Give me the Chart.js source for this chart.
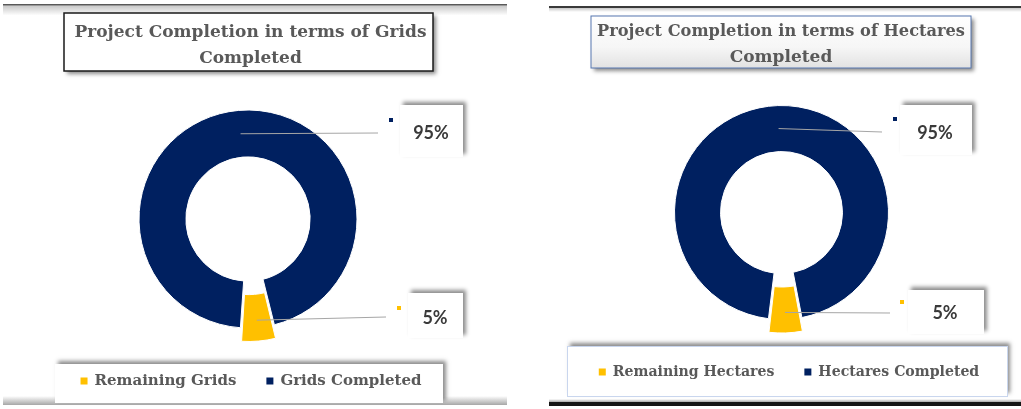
<!DOCTYPE html>
<html>
<head>
<meta charset="utf-8">
<script src="https://cdn.jsdelivr.net/npm/chart.js@4.4.0/dist/chart.umd.min.js"></script>
<style>
  html, body { margin: 0; padding: 0; background: #fff; }
  body { width: 1021px; height: 409px; position: relative; overflow: hidden; }
  canvas { position: absolute; top: 0; }
  #gridsChart { left: 0; }
  #hectaresChart { left: 510px; }
</style>
</head>
<body>
<canvas id="gridsChart" width="510" height="409"></canvas>
<canvas id="hectaresChart" width="511" height="409"></canvas>
<script>
const gridLabels = ['Remaining Grids', 'Grids Completed'];
const gridValues = [5, 95];
const gridTitle = ['Project Completion in terms of Grids', 'Completed'];

const hectareLabels = ['Remaining Hectares', 'Hectares Completed'];
const hectareValues = [5, 95];
const hectareTitle = ['Project Completion in terms of Hectares', 'Completed'];

const sliceColors = ['#FFC000', '#002060'];

const titleFont = 'bold 17px "DejaVu Serif"';
const legendFont = 'bold 15px "DejaVu Serif"';
const labelFont = 'bold 18px Lato';

function shadowOn(ctx, dx, dy) {
    ctx.shadowColor = 'rgba(0,0,0,0.45)';
    ctx.shadowBlur = 4;
    ctx.shadowOffsetX = dx;
    ctx.shadowOffsetY = dy;
}

function shadowOff(ctx) {
    ctx.shadowColor = 'transparent';
    ctx.shadowBlur = 0;
    ctx.shadowOffsetX = 0;
    ctx.shadowOffsetY = 0;
}

function drawFrame(ctx, f) {
    // top rule with a soft shade under it
    ctx.fillStyle = f.topColor;
    ctx.fillRect(f.x0, f.topY, f.x1 - f.x0, f.topH);
    let g = ctx.createLinearGradient(0, f.topY + f.topH, 0, f.topY + f.topH + f.topShade);
    g.addColorStop(0, 'rgba(0,0,0,0.22)');
    g.addColorStop(1, 'rgba(0,0,0,0)');
    ctx.fillStyle = g;
    ctx.fillRect(f.x0, f.topY + f.topH, f.x1 - f.x0, f.topShade);

    // bottom rule
    g = ctx.createLinearGradient(0, f.botY - f.botShade, 0, f.botY);
    g.addColorStop(0, 'rgba(0,0,0,0)');
    g.addColorStop(1, 'rgba(0,0,0,0.35)');
    ctx.fillStyle = g;
    ctx.fillRect(f.x0, f.botY - f.botShade, f.x1 - f.x0, f.botShade);
    if (f.botH) {
        ctx.fillStyle = f.botColor;
        ctx.fillRect(f.x0, f.botY, f.x1 - f.x0, f.botH);
    }
}

function drawTitle(ctx, t, lines) {
    const w = t.x1 - t.x0, h = t.y1 - t.y0;
    ctx.save();
    shadowOn(ctx, 3, 3);
    if (t.gradient) {
        const g = ctx.createLinearGradient(0, t.y0, 0, t.y1);
        g.addColorStop(0, '#ffffff');
        g.addColorStop(0.6, '#f6f6f6');
        g.addColorStop(1, '#e2e2e2');
        ctx.fillStyle = g;
    } else {
        ctx.fillStyle = '#ffffff';
    }
    ctx.fillRect(t.x0, t.y0, w, h);
    shadowOff(ctx);
    ctx.strokeStyle = t.stroke;
    ctx.lineWidth = t.lineWidth;
    ctx.strokeRect(t.x0, t.y0, w, h);

    ctx.fillStyle = '#595959';
    ctx.font = titleFont;
    ctx.textAlign = 'center';
    ctx.textBaseline = 'alphabetic';
    const cx = (t.x0 + t.x1) / 2 + t.dx;
    lines.forEach((line, i) => {
        ctx.fillText(line, cx, t.baseline + i * 26, t.maxWidth);
    });
    ctx.restore();
}

function drawLegend(chart, ctx, l) {
    const labels = chart.data.labels;
    const colors = chart.data.datasets[0].backgroundColor;
    ctx.save();
    shadowOn(ctx, 3, -3);
    ctx.fillStyle = '#ffffff';
    ctx.fillRect(l.x0, l.y0, l.x1 - l.x0, l.y1 - l.y0);
    shadowOff(ctx);
    if (l.stroke) {
        ctx.strokeStyle = l.stroke;
        ctx.lineWidth = 1;
        ctx.strokeRect(l.x0 + 0.5, l.y0 + 0.5, l.x1 - l.x0, l.y1 - l.y0);
    }

    ctx.font = legendFont;
    ctx.textBaseline = 'middle';
    ctx.textAlign = 'left';
    const box = 7, gap = 7, itemGap = 30;
    const textW = labels.map(s => ctx.measureText(s).width * l.squeeze);
    const widths = textW.map(w => box + gap + w);
    const total = widths.reduce((a, b) => a + b, 0) + itemGap * (labels.length - 1);
    let x = (l.x0 + l.x1) / 2 + 2 - total / 2;
    labels.forEach((s, i) => {
        ctx.fillStyle = colors[i];
        ctx.fillRect(x, l.cy - 3.5, box, box);
        ctx.fillStyle = '#595959';
        ctx.fillText(s, x + box + gap, l.cy, textW[i]);
        x += widths[i] + itemGap;
    });
    ctx.restore();
}

const panelDecor = {
    id: 'panelDecor',
    beforeDraw(chart, args, opts) {
        const ctx = chart.ctx;
        ctx.save();
        ctx.fillStyle = '#ffffff';
        ctx.fillRect(0, 0, chart.width, chart.height);
        drawFrame(ctx, opts.frame);
        drawTitle(ctx, opts.titleBox, opts.titleLines);
        drawLegend(chart, ctx, opts.legendBox);
        ctx.restore();
    },
    afterDatasetsDraw(chart, args, opts) {
        const ctx = chart.ctx;
        const meta = chart.getDatasetMeta(0);
        const values = chart.data.datasets[0].data;
        const colors = chart.data.datasets[0].backgroundColor;
        const sum = values.reduce((a, b) => a + b, 0);
        ctx.save();
        meta.data.forEach((arc, i) => {
            const b = opts.labelBoxes[i];
            const p = arc.tooltipPosition();
            // leader line
            ctx.strokeStyle = '#a6a6a6';
            ctx.lineWidth = 1;
            ctx.beginPath();
            ctx.moveTo(p.x, p.y);
            ctx.lineTo(b.lineX, b.lineY);
            ctx.stroke();
            // label box
            shadowOn(ctx, 3, -3);
            ctx.fillStyle = '#ffffff';
            ctx.fillRect(b.x0, b.y0, b.x1 - b.x0, b.y1 - b.y0);
            shadowOff(ctx);
            // legend key
            ctx.fillStyle = colors[i];
            ctx.fillRect(b.keyX, b.keyY, 4, 4);
            // value
            ctx.fillStyle = '#3a3a3a';
            ctx.font = labelFont;
            ctx.textAlign = 'center';
            ctx.textBaseline = 'middle';
            ctx.fillText(Math.round(values[i] / sum * 100) + '%', b.tx, b.ty);
        });
        ctx.restore();
    }
};

function makeDonut(id, labels, values, rotation, radius, padding, decor) {
    return new Chart(document.getElementById(id), {
        type: 'doughnut',
        data: {
            labels: labels,
            datasets: [{
                data: values,
                backgroundColor: sliceColors,
                borderColor: '#ffffff',
                borderWidth: 1,
                offset: [32, 0]
            }]
        },
        options: {
            responsive: false,
            animation: false,
            rotation: rotation,
            radius: radius,
            cutout: '57%',
            layout: { padding: padding },
            plugins: {
                legend: { display: false },
                title: { display: false },
                tooltip: { enabled: false },
                panelDecor: decor
            }
        },
        plugins: [panelDecor]
    });
}

makeDonut('gridsChart', gridLabels, gridValues, 166, 109,
    { left: 0, right: 14, top: 29, bottom: 0 },
    {
        frame: { x0: 3, x1: 507, topY: 4, topH: 1.5, topColor: '#595959', topShade: 10,
                 botY: 405, botShade: 9, botH: 0 },
        titleBox: { x0: 64, x1: 433, y0: 13, y1: 71, stroke: '#1a1a1a', lineWidth: 1.5,
                    gradient: false, baseline: 37, dx: 2, maxWidth: 356 },
        titleLines: gridTitle,
        legendBox: { x0: 55, x1: 443, y0: 364, y1: 403, cy: 381, squeeze: 1 },
        labelBoxes: [
            { x0: 408, x1: 463, y0: 293, y1: 338, keyX: 397, keyY: 306, lineX: 386, lineY: 317, tx: 435, ty: 318 },
            { x0: 400, x1: 463, y0: 105, y1: 157, keyX: 389, keyY: 118, lineX: 378, lineY: 133, tx: 431, ty: 133 }
        ]
    });

makeDonut('hectaresChart', hectareLabels, hectareValues, 169, 107,
    { left: 32, right: 0, top: 16, bottom: 0 },
    {
        frame: { x0: 39, x1: 511, topY: 6, topH: 2, topColor: '#3a3a3a', topShade: 4,
                 botY: 402, botShade: 3, botH: 4, botColor: '#151515' },
        titleBox: { x0: 81, x1: 461, y0: 16, y1: 68, stroke: '#5677b0', lineWidth: 1,
                    gradient: true, baseline: 36, dx: 0, maxWidth: 368 },
        titleLines: hectareTitle,
        legendBox: { x0: 57, x1: 497, y0: 346, y1: 396, cy: 372, stroke: '#c9d6ee', squeeze: 0.94 },
        labelBoxes: [
            { x0: 398, x1: 474, y0: 290, y1: 334, keyX: 390, keyY: 300, lineX: 380, lineY: 313, tx: 435, ty: 313 },
            { x0: 390, x1: 462, y0: 105, y1: 155, keyX: 383, keyY: 117, lineX: 372, lineY: 132, tx: 425, ty: 133 }
        ]
    });
</script>
</body>
</html>
